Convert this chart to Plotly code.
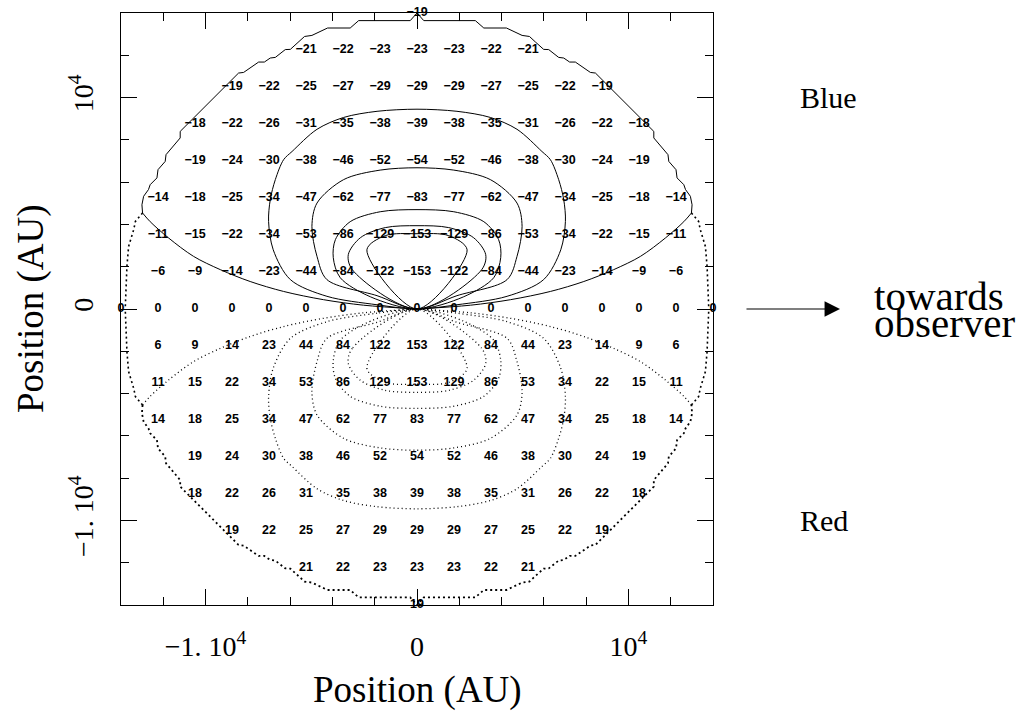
import plotly.graph_objects as go

# ---------------- data ----------------
STEP = 1750  # AU between labelled grid points

# label magnitudes, row k lies at |y| = k*STEP ; upper half is negative (Blue), lower positive (Red)
ROW0 = [0, 0, 0, 0, 0, 0, 0, 0, 0, 0, 0, 0, 0, 0, 0, 0, 0]
ROW1 = [6, 9, 14, 23, 44, 84, 122, 153, 122, 84, 44, 23, 14, 9, 6]
ROW2 = [11, 15, 22, 34, 53, 86, 129, 153, 129, 86, 53, 34, 22, 15, 11]
ROW3 = [14, 18, 25, 34, 47, 62, 77, 83, 77, 62, 47, 34, 25, 18, 14]
ROW4 = [19, 24, 30, 38, 46, 52, 54, 52, 46, 38, 30, 24, 19]
ROW5 = [18, 22, 26, 31, 35, 38, 39, 38, 35, 31, 26, 22, 18]
ROW6 = [19, 22, 25, 27, 29, 29, 29, 27, 25, 22, 19]
ROW7 = [21, 22, 23, 23, 23, 22, 21]
ROW8 = [19]
ROWS = [ROW0, ROW1, ROW2, ROW3, ROW4, ROW5, ROW6, ROW7, ROW8]

# contour curves of the upper (Blue) half, left side, in AU
OUTER_X = [-12980, -12620, -11750, -10570, -9300, -7890, -6310, -4420, -2530, 0]
OUTER_Y = [4540, 4130, 3360, 2490, 1860, 1300, 830, 440, 180, 0]

LOOP_A_X = [0, -1890, -3470, -4730, -5910, -6310, -6700, -6940, -7020, -6800, -5990, -4260, -1890, 0]
LOOP_A_Y = [9450, 9350, 9060, 8500, 7450, 7060, 6120, 5170, 4140, 2800, 1390, 600, 200, 0]

LOOP_B_X = [0, -1740, -3470, -4730, -4970, -4730, -4260, -1890, 0]
LOOP_B_Y = [6680, 6570, 6120, 5010, 3910, 2490, 1390, 630, 0]

LOOP_C_X = [0, -1740, -3160, -3860, -3960, -3630, -2210, 0]
LOOP_C_Y = [4700, 4600, 4130, 3280, 2430, 1480, 580, 0]

LOOP_D_X = [0, -1500, -2680, -3250, -3060, 0]
LOOP_D_Y = [3940, 3850, 3370, 2570, 1860, 0]

LOOP_E_X = [0, -1500, -2370, 0]
LOOP_E_Y = [3560, 3470, 2800, 0]

# jagged edge of the mapped disc (upper-left quarter), AU
EDGE_X = [-12980, -13010, -12930, -12700, -12620, -12300, -12250, -11910, -11870, -11200, -11200,
          -8440, -8200, -7490, -7220, -6940, -6700, -6230, -5990, -5600, -5320, -4970, -4230,
          -3160, -2760, -320, 0]
EDGE_Y = [4540, 4930, 5330, 5650, 5880, 6200, 6590, 6980, 7300, 8090, 8400,
          11160, 11190, 11680, 11680, 11870, 11900, 12270, 12280, 12630, 12890, 12940, 13290,
          13290, 13640, 13640, 14000]

# dotted edge piece between the outer contour and the equator (upper-left), AU
SIDE_X = [-12980, -13320, -13400, -13640, -13720, -13750, -13800]
SIDE_Y = [4540, 4140, 3750, 2960, 2010, 920, 0]

# ---------------- build figure ----------------
fig = go.Figure()

MINUS = "\u2212"
DOTS = "1px,3px"
BOLD_DOTS = "2px,3px"


def mirror_x(xs):
    return [-v for v in xs]


def mirror_y(ys):
    return [-v for v in ys]


def add_line(xs, ys, dash="solid", width=1.0, shape="linear", color="black"):
    fig.add_trace(go.Scatter(x=xs, y=ys, mode="lines", hoverinfo="skip",
                             line=dict(color=color, width=width, dash=dash,
                                       shape=shape, smoothing=0.9 if shape == "spline" else None)))


def loop_full(lx, ly):
    # from centre up the left side, over the top, down the right side back to centre
    xs = list(reversed(lx)) + mirror_x(lx)[1:]
    ys = list(reversed(ly)) + ly[1:]
    return xs, ys


for half in (1, -1):
    sgn = (lambda ys: ys) if half == 1 else mirror_y
    dash = "solid" if half == 1 else DOTS
    wid = 1.0 if half == 1 else 1.3
    # outer open contour, both sides
    add_line(OUTER_X, sgn(OUTER_Y), dash=dash, width=wid, shape="spline")
    add_line(mirror_x(OUTER_X), sgn(OUTER_Y), dash=dash, width=wid, shape="spline")
    for lx, ly in [(LOOP_A_X, LOOP_A_Y), (LOOP_B_X, LOOP_B_Y), (LOOP_C_X, LOOP_C_Y),
                   (LOOP_D_X, LOOP_D_Y), (LOOP_E_X, LOOP_E_Y)]:
        fx, fy = loop_full(lx, ly)
        add_line(fx, sgn(fy), dash=dash, width=wid, shape="spline")
    # disc edge
    ex = EDGE_X + mirror_x(EDGE_X)[::-1][1:]
    ey = EDGE_Y + EDGE_Y[::-1][1:]
    add_line(ex, sgn(ey), dash="solid" if half == 1 else BOLD_DOTS, width=1.0 if half == 1 else 1.8)
    # side pieces (dotted in both halves)
    add_line(SIDE_X, sgn(SIDE_Y), dash=BOLD_DOTS, width=1.6)
    add_line(mirror_x(SIDE_X), sgn(SIDE_Y), dash=BOLD_DOTS, width=1.6)

# value labels
lx, ly, lt = [], [], []
for k, row in enumerate(ROWS):
    n = len(row) // 2
    for j, v in enumerate(row):
        xpos = (j - n) * STEP
        if k == 0:
            lx.append(xpos); ly.append(0); lt.append(str(v))
        else:
            lx.append(xpos); ly.append(k * STEP); lt.append(MINUS + str(v))
            lx.append(xpos); ly.append(-k * STEP); lt.append(str(v))
fig.add_trace(go.Scatter(x=lx, y=ly, text=lt, mode="text", hoverinfo="skip", cliponaxis=False,
                         textfont=dict(family="Liberation Sans", size=12.5, color="black",
                                       weight="bold")))

SERIF = "Liberation Serif"
tick_vals = [-10000, 0, 10000]
tick_text = [MINUS + "1. 10<sup>4</sup>", "0", "10<sup>4</sup>"]

axis_common = dict(range=[-14000, 14000], showgrid=False, zeroline=False, showline=True,
                   linecolor="black", linewidth=1, mirror="allticks", ticks="inside",
                   ticklen=16, tickwidth=1, tickcolor="black", automargin=False,
                   tickvals=tick_vals, ticktext=tick_text,
                   tickfont=dict(family=SERIF, size=28, color="black"),
                   minor=dict(ticks="inside", ticklen=8, tickwidth=1, tickcolor="black",
                              dtick=2000, tick0=0, showgrid=False))

fig.update_layout(
    width=1033, height=711,
    margin=dict(l=121, r=320, t=13, b=106, autoexpand=False),
    paper_bgcolor="white", plot_bgcolor="white",
    showlegend=False,
    xaxis=dict(**axis_common, ticklabelstandoff=16),
    yaxis=dict(**axis_common, tickangle=-90, ticklabelstandoff=16),
)

annos = [
    dict(text="Position (AU)", x=0.5, y=-0.143, xref="paper", yref="paper",
         showarrow=False, font=dict(family=SERIF, size=37, color="black"), yanchor="middle"),
    dict(text="Position (AU)", x=-0.152, y=0.5, xref="paper", yref="paper", textangle=-90,
         showarrow=False, font=dict(family=SERIF, size=37, color="black"), xanchor="center"),
    dict(text="Blue", x=1.1436, y=10000, xref="paper", yref="y", xanchor="left",
         showarrow=False, font=dict(family=SERIF, size=30, color="black")),
    dict(text="Red", x=1.1436, y=-10000, xref="paper", yref="y", xanchor="left",
         showarrow=False, font=dict(family=SERIF, size=30, color="black")),
    dict(text="towards", x=1.268, y=600, xref="paper", yref="y", xanchor="left",
         showarrow=False, font=dict(family=SERIF, size=41, color="black")),
    dict(text="observer", x=1.268, y=-660, xref="paper", yref="y", xanchor="left",
         showarrow=False, font=dict(family=SERIF, size=41, color="black")),
    dict(text="", x=1.2145, y=0, xref="paper", yref="y", ax=-95, ay=0,
         showarrow=True, arrowhead=2, arrowsize=2.8, arrowwidth=1.1, arrowcolor="black"),
]
fig.update_layout(annotations=annos)

fig.write_html("out.html", post_script="document.body.style.margin='0px';",
               config={"displayModeBar": False})
